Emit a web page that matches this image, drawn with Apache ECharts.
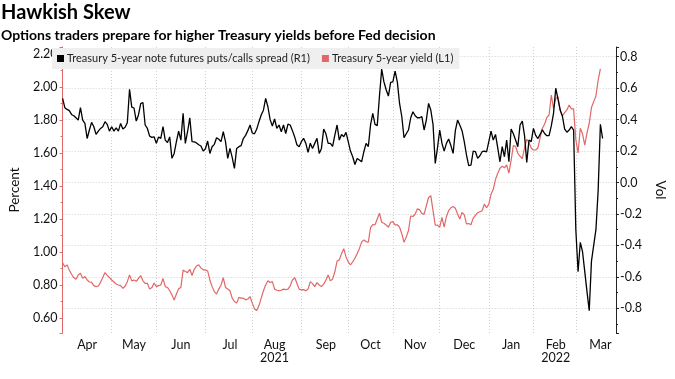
<!DOCTYPE html>
<html>
<head>
<meta charset="utf-8">
<script src="https://cdn.jsdelivr.net/npm/echarts@6/dist/echarts.min.js"></script>
<style>
html,body{margin:0;padding:0;background:#fff;}
#chart{width:675px;height:379px;}
</style>
</head>
<body>
<div id="chart"></div>
<script>
// Trading-day positions along the x axis (0 = first day shown, end of March 2021)
const dayCount = 249;
const categories = Array.from({length: dayCount}, (_, i) => String(i));

// Month tick labels and positions (trading-day index)
const monthLabels = ['Apr','May','Jun','Jul','Aug','Sep','Oct','Nov','Dec','Jan','Feb','Mar'];
const monthLabelIdx = [11,32,53,75,95,118,138,158,180,201,221,241];
const yearLabels = {'Aug':'2021','Feb':'2022'};
const monthStartIdx = [22,42,64,85,107,128,148,169,191,211,230];

// Treasury 5-year note futures puts/calls spread (vol, right axis)
const spreadVol = [
0.535,0.476,0.465,0.457,0.433,0.425,0.412,0.397,0.476,0.397,
0.376,0.28,0.334,0.383,0.355,0.306,0.327,0.344,0.355,0.387,
0.37,0.327,0.355,0.327,0.348,0.327,0.376,0.34,0.352,0.38,
0.593,0.48,0.474,0.391,0.43,0.502,0.509,0.366,0.344,0.295,
0.287,0.291,0.249,0.29,0.281,0.355,0.27,0.255,0.29,0.154,
0.185,0.26,0.327,0.27,0.44,0.249,0.323,0.412,0.26,0.258,
0.252,0.24,0.232,0.2,0.215,0.264,0.185,0.228,0.243,0.285,
0.275,0.26,0.323,0.26,0.154,0.217,0.16,0.09,0.217,0.228,
0.235,0.28,0.3,0.33,0.366,0.315,0.31,0.34,0.387,0.43,
0.46,0.535,0.482,0.4,0.36,0.404,0.344,0.366,0.323,0.366,
0.312,0.372,0.366,0.33,0.29,0.24,0.228,0.26,0.281,0.249,
0.192,0.25,0.217,0.249,0.281,0.185,0.217,0.34,0.31,0.249,
0.249,0.23,0.302,0.366,0.27,0.306,0.291,0.319,0.26,0.2,
0.164,0.115,0.153,0.143,0.132,0.196,0.249,0.228,0.366,0.44,
0.37,0.362,0.55,0.722,0.64,0.59,0.55,0.637,0.64,0.709,
0.64,0.503,0.42,0.285,0.31,0.334,0.412,0.45,0.425,0.412,
0.412,0.419,0.334,0.397,0.503,0.461,0.37,0.122,0.22,0.334,
0.25,0.2,0.249,0.277,0.235,0.185,0.33,0.397,0.366,0.33,
0.26,0.175,0.107,0.11,0.2,0.196,0.154,0.17,0.196,0.2,
0.195,0.26,0.327,0.27,0.306,0.22,0.132,0.228,0.164,0.27,
0.132,0.34,0.31,0.27,0.228,0.366,0.391,0.3,0.128,0.27,
0.26,0.344,0.3,0.28,0.306,0.335,0.312,0.298,0.298,0.36,
0.44,0.6,0.53,0.461,0.42,0.34,0.32,0.334,0.355,0.334,
-0.3,-0.567,-0.38,-0.44,-0.567,-0.694,-0.815,-0.5,-0.4,-0.3,
-0.05,0.37,0.28
];

// Treasury 5-year yield (percent, left axis)
const yield5y = [
0.935,0.91,0.922,0.89,0.865,0.845,0.835,0.861,0.871,0.84,
0.851,0.83,0.818,0.816,0.796,0.79,0.794,0.816,0.845,0.875,
0.858,0.845,0.83,0.818,0.806,0.8,0.796,0.78,0.792,0.82,
0.861,0.825,0.83,0.822,0.84,0.857,0.825,0.81,0.81,0.775,
0.784,0.812,0.79,0.796,0.8,0.84,0.79,0.785,0.765,0.74,
0.709,0.745,0.778,0.785,0.89,0.882,0.875,0.895,0.857,0.895,
0.915,0.922,0.903,0.893,0.89,0.885,0.83,0.79,0.76,0.745,
0.775,0.8,0.844,0.785,0.775,0.765,0.72,0.7,0.69,0.725,
0.72,0.72,0.71,0.715,0.73,0.69,0.655,0.645,0.675,0.72,
0.765,0.8,0.826,0.815,0.82,0.775,0.768,0.766,0.768,0.775,
0.772,0.775,0.795,0.83,0.845,0.81,0.775,0.77,0.772,0.765,
0.775,0.82,0.808,0.79,0.814,0.8,0.79,0.805,0.83,0.86,
0.825,0.836,0.88,0.945,0.952,0.99,1.02,0.97,0.94,0.921,
0.94,0.962,0.99,1.02,1.06,1.073,1.063,1.059,1.147,1.166,
1.165,1.2,1.235,1.18,1.174,1.164,1.15,1.18,1.184,1.164,
1.165,1.15,1.11,1.059,1.09,1.13,1.218,1.215,1.23,1.262,
1.255,1.234,1.228,1.28,1.33,1.341,1.25,1.162,1.163,1.15,
1.21,1.15,1.215,1.25,1.268,1.275,1.265,1.23,1.2,1.24,
1.225,1.17,1.172,1.165,1.205,1.222,1.238,1.244,1.25,1.29,
1.268,1.29,1.35,1.38,1.44,1.477,1.507,1.52,1.51,1.527,
1.478,1.555,1.645,1.64,1.598,1.58,1.566,1.63,1.683,1.662,
1.63,1.618,1.618,1.63,1.693,1.75,1.774,1.815,1.83,1.951,
1.87,1.93,1.941,1.855,1.826,1.844,1.861,1.89,1.867,1.867,
1.68,1.6,1.75,1.715,1.648,1.72,1.78,1.875,1.911,1.945,
2.042,2.109
];

const FONT = 'Lato';
const RED = '#e26767';
const chart = echarts.init(document.getElementById('chart'), null, {renderer: 'canvas'});

function near(v, step) { return Math.abs(v / step - Math.round(v / step)) < 1e-6; }

chart.setOption({
  animation: false,
  backgroundColor: '#ffffff',
  textStyle: {fontFamily: FONT},
  title: [
    {text: 'Hawkish Skew', left: 1, top: 3, padding: 0,
     textStyle: {fontFamily: FONT, fontWeight: 'bold', fontSize: 20, color: '#000'}},
    {text: 'Options traders prepare for higher Treasury yields before Fed decision', left: 1, top: 28, padding: 0,
     textStyle: {fontFamily: FONT, fontWeight: 'bold', fontSize: 14, color: '#000'}}
  ],
  legend: {
    left: 52, top: 48, padding: [5, 6, 5, 5],
    backgroundColor: '#efefef',
    icon: 'rect', itemWidth: 7, itemHeight: 7, itemGap: 12,
    textStyle: {fontFamily: FONT, fontSize: 11, color: '#222', padding: [0, 0, 0, -2]},
    data: ['Treasury 5-year note futures puts/calls spread (R1)', 'Treasury 5-year yield (L1)']
  },
  grid: {left: 49, right: 48, top: 47, bottom: 46, containLabel: false},
  xAxis: {
    type: 'category',
    data: categories,
    boundaryGap: false,
    axisLine: {show: false},
    axisTick: {show: false},
    axisLabel: {
      interval: (idx) => monthLabelIdx.includes(idx),
      margin: 5,
      fontFamily: FONT, fontSize: 12.5, color: '#111', lineHeight: 13,
      formatter: (val, idx) => {
        const k = monthLabelIdx.indexOf(Number(val));
        if (k < 0) return '';
        const m = monthLabels[k];
        return yearLabels[m] ? m + '\n' + yearLabels[m] : m;
      }
    },
    splitLine: {
      show: true,
      interval: (idx) => monthStartIdx.includes(idx),
      lineStyle: {color: '#cfcfcf', type: [1, 2], width: 1}
    }
  },
  yAxis: [
    {
      type: 'value', position: 'left',
      min: 0.509, max: 2.242, splitNumber: 9,
      name: 'Percent', nameLocation: 'middle', nameGap: 40,
      nameTextStyle: {fontFamily: FONT, fontSize: 13.5, color: '#111'},
      axisLine: {show: true, lineStyle: {color: RED, width: 1}},
      axisTick: {show: true, length: 3, lineStyle: {color: RED}},
      minorTick: {show: true, splitNumber: 2, length: 2, lineStyle: {color: RED}},
      splitLine: {show: false},
      axisLabel: {
        showMinLabel: false, showMaxLabel: false, margin: 5,
        fontFamily: FONT, fontSize: 12.5, color: '#111',
        formatter: (v) => near(v, 0.2) ? v.toFixed(2) : ''
      }
    },
    {
      type: 'value', position: 'right',
      min: -0.957, max: 0.862, splitNumber: 9,
      name: 'Vol', nameLocation: 'middle', nameGap: 35, nameRotate: -90,
      nameTextStyle: {fontFamily: FONT, fontSize: 13.5, color: '#111'},
      axisLine: {show: true, lineStyle: {color: '#222', width: 1}},
      axisTick: {show: true, length: 3, lineStyle: {color: '#222'}},
      minorTick: {show: true, splitNumber: 2, length: 2, lineStyle: {color: '#222'}},
      splitLine: {show: true, showMinLine: false, showMaxLine: false,
                  lineStyle: {color: '#cfcfcf', type: [1, 2], width: 1}},
      axisLabel: {
        showMinLabel: false, showMaxLabel: false, margin: 4,
        fontFamily: FONT, fontSize: 12.5, color: '#111',
        formatter: (v) => near(v, 0.2) ? (Math.abs(v) < 1e-9 ? 0 : v).toFixed(1) : ''
      }
    }
  ],
  series: [
    {
      name: 'Treasury 5-year note futures puts/calls spread (R1)',
      type: 'line', yAxisIndex: 1, data: spreadVol,
      showSymbol: false, z: 3,
      itemStyle: {color: '#000'},
      lineStyle: {color: '#000', width: 1.3}
    },
    {
      name: 'Treasury 5-year yield (L1)',
      type: 'line', yAxisIndex: 0, data: yield5y,
      showSymbol: false, z: 2,
      itemStyle: {color: RED},
      lineStyle: {color: RED, width: 1.2}
    }
  ]
});
</script>
</body>
</html>
